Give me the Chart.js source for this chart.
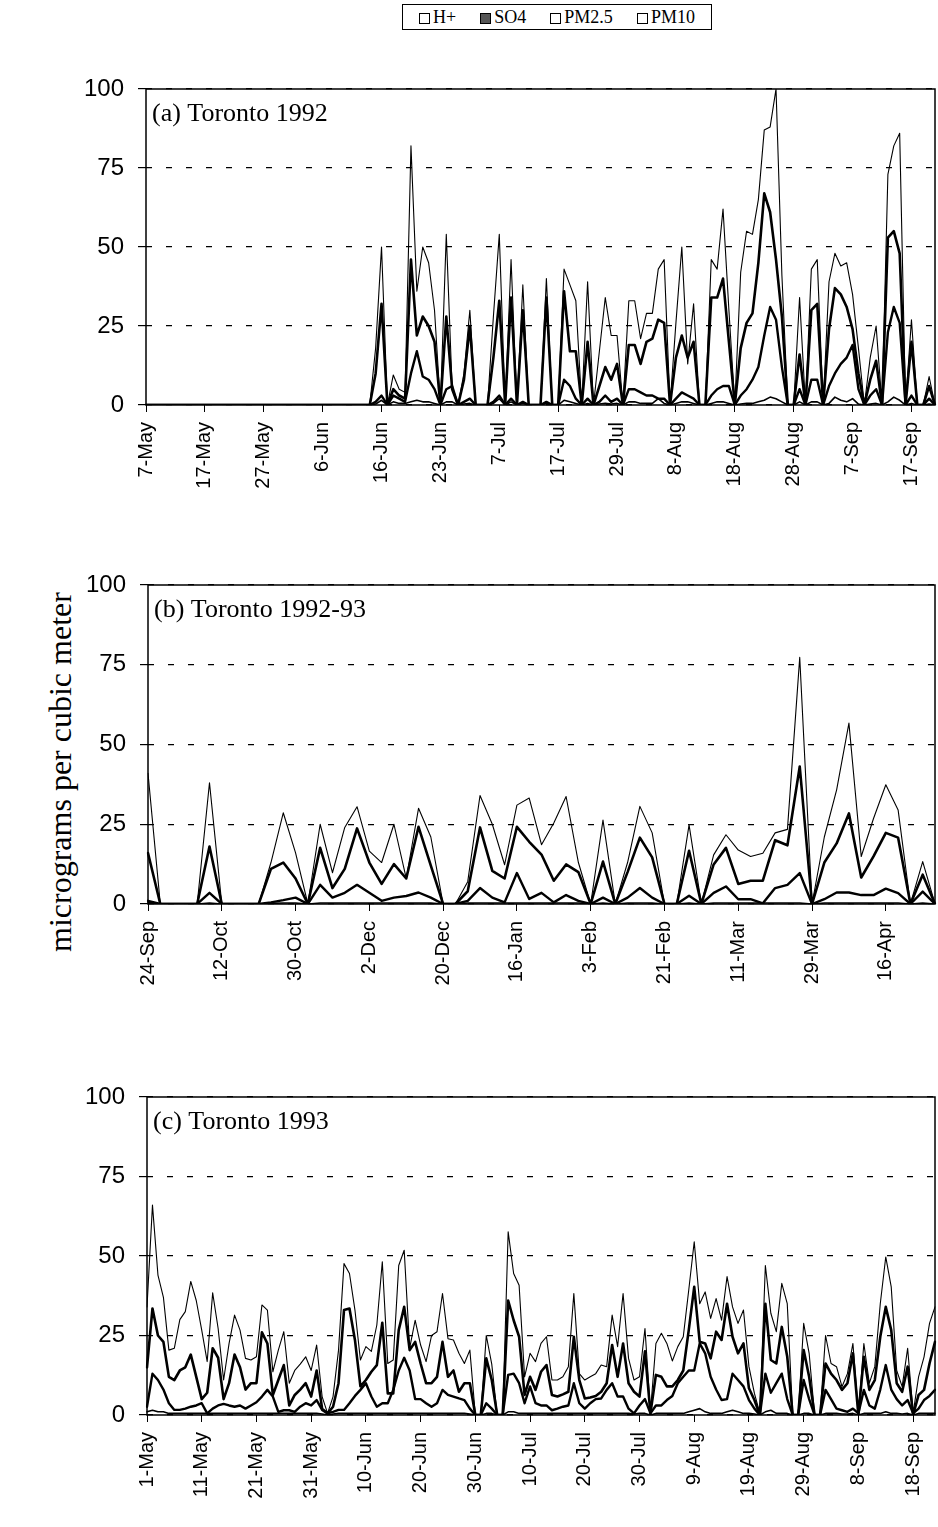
<!DOCTYPE html>
<html>
<head>
<meta charset="utf-8">
<script src="https://cdn.jsdelivr.net/npm/chart.js@4.4.1/dist/chart.umd.min.js"></script>
<style>
  body { margin: 0; background: #fff; }
  #page { position: relative; width: 938px; height: 1527px; overflow: hidden; background: #fff; }
  .panel { position: absolute; left: 0; width: 938px; }
  .panel canvas { display: block; }
  #legend {
    position: absolute; left: 402px; top: 4px; width: 310px; height: 26px;
    border: 1.5px solid #000; box-sizing: border-box;
    font: 18px "Liberation Serif", "Times New Roman", serif; color: #000;
    display: flex; align-items: center; justify-content: space-around; padding: 0 4px;
  }
  #legend .sw { display: inline-block; width: 9px; height: 9px; border: 1.5px solid #000; margin-right: 3px; vertical-align: -1px; }
  #legend .sw.dark { background: #555; }
  #ylabel {
    position: absolute; left: 60px; top: 772px; transform: translate(-50%, -50%) rotate(-90deg);
    white-space: nowrap; font: 32px "Liberation Serif", "Times New Roman", serif; color: #000;
  }
</style>
</head>
<body>
<div id="page">
  <div id="legend">
    <span><span class="sw"></span>H+</span>
    <span><span class="sw dark"></span>SO4</span>
    <span><span class="sw"></span>PM2.5</span>
    <span><span class="sw"></span>PM10</span>
  </div>
  <div id="ylabel">micrograms per cubic meter</div>
  <div class="panel" style="top:40px"><canvas id="chart-a" width="938" height="500"></canvas></div>
  <div class="panel" style="top:545px"><canvas id="chart-b" width="938" height="500"></canvas></div>
  <div class="panel" style="top:1055px"><canvas id="chart-c" width="938" height="472"></canvas></div>
</div>

<script>
// ---- tick labels (one every N samples) ----
const ticksA = ['7-May','17-May','27-May','6-Jun','16-Jun','23-Jun','7-Jul','17-Jul','29-Jul','8-Aug','18-Aug','28-Aug','7-Sep','17-Sep'];
const ticksB = ['24-Sep','12-Oct','30-Oct','2-Dec','20-Dec','16-Jan','3-Feb','21-Feb','11-Mar','29-Mar','16-Apr'];
const ticksC = ['1-May','11-May','21-May','31-May','10-Jun','20-Jun','30-Jun','10-Jul','20-Jul','30-Jul','9-Aug','19-Aug','29-Aug','8-Sep','18-Sep'];

// ---- (a) Toronto 1992 ----
const pm10A = [
  0,0,0,0,0,0,0,0,0,0, 0,0,0,0,0,0,0,0,0,0, 0,0,0,0,0,0,0,0,0,0,
  0,0,0,0,0,0,0,0,0,18, 50,0,9.5,5,4,82,36,50,45,30, 0,54,5,0,10,30,0,0,0,28,
  54,0,46,0,38,0,0,0,40,0, 0,43,38,33,0,39,0,17,34,22, 22,0,33,33,21,29,29,43,46,0,
  26,50,13,32,0,0,46,43,62,30, 0,42,55,54,65,87,88,100,41,0, 0,34,0,43,46,0,39,48,44,45,
  35,18,0,15,25,0,73,82,86,0, 27,0,0,9,0
];
const pm25A = [
  0,0,0,0,0,0,0,0,0,0, 0,0,0,0,0,0,0,0,0,0, 0,0,0,0,0,0,0,0,0,0,
  0,0,0,0,0,0,0,0,0,10, 32,0,5,3,2,46,22,28,25,20, 0,28,5,0,8,25,0,0,0,15,
  33,0,34,0,30,0,0,0,34,0, 0,36,17,17,0,20,0,6,12,8, 13,0,19,19,13,20,21,27,26,0,
  15,22,15,20,0,0,34,34,40,20, 0,18,26,29,45,67,61,46,28,0, 0,16,0,30,32,0,24,37,35,31,
  24,10,0,8,14,0,53,55,48,0, 20,0,0,6,0
];
const so4A = [
  0,0,0,0,0,0,0,0,0,0, 0,0,0,0,0,0,0,0,0,0, 0,0,0,0,0,0,0,0,0,0,
  0,0,0,0,0,0,0,0,0,1, 3,0,3,2,1,10,17,9,8,5, 0,5,6,0,1,2,0,0,0,1,
  3,0,2,0,1,0,0,0,1,0, 0,8,6,2,0,2,0,1,3,1, 2,0,5,5,4,3,3,2,2,0,
  2,4,3,2,0,0,3,5,6,6, 0,3,5,8,12,22,31,27,12,0, 0,5,0,8,8,0,6,10,13,15,
  19,5,0,3,5,0,23,31,26,0, 3,0,0,2,0
];
const hA = [
  0,0,0,0,0,0,0,0,0,0, 0,0,0,0,0,0,0,0,0,0, 0,0,0,0,0,0,0,0,0,0,
  0,0,0,0,0,0,0,0,0,0.3, 1.5,0,1,0.5,0.5,1,1.5,1,1,0.5, 0,1,1,0,0.3,0.5,0,0,0,0.5,
  2,0,1,0,0.5,0,0,0,0.5,0, 0,1.5,1,0.5,0,0.5,0,0.3,0.5,0.3, 0.5,0,1,1,0.5,0.5,0.5,2,0.5,0,
  0.5,1,1,0.5,0,0,0.5,1,1,0.5, 0,0.3,0.5,0.5,1,1.5,2.5,2,1,0, 0,1,0,1,1,0,0.5,2.5,1.5,1,
  2,0.3,0,0.3,0.5,0,1,2.5,1.5,0, 0.5,0,0,0.3,0
];

// ---- (b) Toronto 1992-93 ----
const pm10B = [
  41,0,0,0,0,38,0,0,0,0, 13,28.6,16,0,25,9.8,24,30.5,16.6,13,
  25,8,30,21,0,0,7,34,25,12.3, 31,33.2,18.6,25.4,33.7,13,0,26.3,0,13,
  30.6,22.3,0,0,24.8,0,15.4,21.7,16.9,14.9, 15.9,22.3,23.4,77.3,0,21,35.8,56.7,14.9,26.8,
  37.4,29.5,0,13.3,0
];
const pm25B = [
  16,0,0,0,0,18,0,0,0,0, 11,13,8,0,17.6,5,11,23.7,13,6.3,
  12.5,8,24.2,12,0,0,4,24,10.4,8, 24.2,19.5,15.5,7.3,12.4,10,0,13.3,0,10,
  20.8,14.6,0,0,16.7,0,12.4,17.6,6.3,7.3, 7.3,20,18.4,43.1,0,13,19,28.4,8.3,14.9,
  22.3,20.8,0,9.2,0
];
const so4B = [
  1,0,0,0,0,3.5,0,0,0,0, 0.5,1.2,2,0,6,2,3.5,6,3.5,1,
  2,2.5,3.6,2,0,0,1,5,2,0.5, 9.7,1.6,3.5,0.5,2.8,1,0,2,0,2,
  5,2,0,0,2.6,0,3.5,5.5,1.5,1.5, 0.2,5,6,9.7,0,1.5,3.6,3.6,2.8,2.8,
  4.8,3.4,0,3.9,0
];
const hB = [
  0.5,0,0,0,0,0.3,0,0,0,0, 0.2,0.3,0.3,0,0.3,0.3,0.3,0.3,0.3,0.3,
  0.3,0.3,0.3,0.3,0,0,0.3,0.3,0.3,0.3, 0.3,0.3,0.3,0.3,0.3,0.3,0,0.3,0,0.3,
  0.3,0.3,0,0,0.3,0,0.3,0.3,0.3,0.3, 0.3,0.3,0.3,0.3,0,0.3,0.3,0.3,0.3,0.3,
  0.3,0.3,0,0.3,0
];

// ---- (c) Toronto 1993 ----
const pm10C = [
  34,66,44,37,20.4,21,30,32.5,42,36, 26.7,16.8,38.4,27.2,11,22.5,31.4,26.7,17.8,17.3,
  18.3,34.6,33,13.6,20.4,26.2,10,14,16,18.3, 14,22,5.8,0.5,5.8,20.4,47.6,44.5,33,17.3,
  21.5,20,28.3,48.2,16.2,17.3,47,51.8,21,29.8, 22,16.8,25,26.2,38.2,24,23.6,19.4,16.2,20.4,
  0,0,25,16,0,0,57.6,44.5,40.8,12, 19.4,16.8,22.5,24.6,11,11,12,15.2,38.2,13,
  11,12,13,15.7,15.2,31.4,21.5,38.2,17.8,11, 12,27.2,1,22.5,25.7,22.5,17,21.5,24.6,39.3,
  54.5,35,38.7,30.4,36.6,29.8,43.5,34,28.8,33, 15.2,6.8,0.5,47,32,26.2,41.4,35,0,0,
  28.8,19.4,0,0,25,16.2,15.2,8.9,13,22.5, 0.5,22.5,10,15.2,35,49.7,40.3,14,8.9,21,
  0.5,12,18.3,28.8,34
];
const pm25C = [
  15,33.5,25,23,12,11,14,15,19,12, 5,7,21,18,5,10,19,15,8,10,
  10,26,22.5,6.3,11,15.7,3,6.3,8,10, 5.8,14,2,0.5,2.6,10,33,33.5,23.6,9,
  11,13.6,15.7,29,6.8,6.8,26.7,34,20.4,23, 16.2,10,10,12,23,12,14,7.3,10,10,
  0,0,17.8,11,0,0,36,29.8,24.6,6.3, 12,7.9,13.6,15.7,6.3,5.8,6.5,7.3,24.6,11,
  5.2,5.5,6,7.3,10,22,12,22.5,10,7.3, 5.8,20,0.5,12.6,12,9,9,11,14,26.7,
  40.3,23,22.5,17.8,26.2,23.6,35,24.6,19.4,22.5, 8.4,4.7,0,35,17.3,16.2,27.7,18.3,0,0,
  20.4,12,0,0,16.2,13,11,7.9,10,19.4, 0,18.3,7.9,11,24.6,34,26.7,10,7.3,15.2,
  0,6.3,7.9,16.2,23
];
const so4C = [
  2.6,13,11,8,3.7,1.6,1.6,2,2.6,3, 3.7,0.5,2,3,3.5,3,2.6,3,2,3,
  4,5.8,7.9,5.8,1,1.5,1.5,1,2.6,3.7, 3,4.7,1.6,0.5,1,1.6,1.6,3.7,6,7.9,
  10,5.8,2.6,3.7,3.7,7.9,14,18,14,5, 5,3.7,2.6,3.7,7.9,6.3,5.8,5.2,4.7,2,
  0,0,3.7,2,0,0,12.6,13,10,3.7, 9,3.7,3,3,1.5,2,2.6,3,10,3.7,
  2,3.7,5,5.2,7.9,10,5.8,5.8,2,0.5, 3,5,0.5,3,3,4.7,6,10,12,14,
  14,22.5,19.4,12,8,4.7,5,13,11,9, 4.7,2,0,13,7,10,13,5,0,0,
  11,5,0,0,7.9,5,2,1.5,1,2, 0.5,7.9,3,2,8,15.7,8,5,3,4.7,
  0.5,2,4.7,6,7.9
];
const hC = [
  1,1.5,1,1,0.5,0.5,0.5,0.5,0.5,0.5, 0.5,0.5,0.5,0.5,0.5,0.5,0.5,0.5,0.5,0.5,
  0.5,0.5,0.5,0.5,0.5,0.5,0.5,0.5,0.5,0.5, 0.5,0.5,0.3,0,0.3,0.5,0.5,0.5,0.5,0.5,
  0.5,0.5,0.5,0.5,0.5,0.5,0.5,0.5,0.5,0.5, 0.5,0.5,0.5,0.5,0.5,0.5,0.5,0.5,0.5,0.3,
  0,0,0.5,0.5,0,0,1,1,0.5,0.5, 0.5,0.5,0.5,0.5,0.5,0.5,0.5,0.5,0.5,0.5,
  0.5,0.5,0.5,0.5,0.5,0.5,0.5,0.5,0.5,0.3, 0.5,0.5,0,0.5,0.5,0.5,0.5,0.5,0.5,1,
  1.5,2,1,0.5,0.5,0.5,1,1.5,1,0.5, 0.5,0.3,0,1,1.5,0.5,0.5,0.5,0,0,
  0.5,0.5,0,0,0.5,0.5,0.5,0.3,0.3,0.5, 0,0.5,0.5,0.5,0.5,1,0.5,0.5,0.3,0.5,
  0,0.5,0.5,0.5,0.5
];

const yTicks = [0, 25, 50, 75, 100];

// frame + panel caption, drawn on top of everything
const panelDecor = {
  id: 'panelDecor',
  afterDraw(chart, args, opts) {
    const { ctx, chartArea: a } = chart;
    ctx.save();
    ctx.setLineDash([]);
    ctx.strokeStyle = '#000';
    ctx.lineWidth = 1.5;
    ctx.strokeRect(a.left, a.top, a.right - a.left, a.bottom - a.top);
    ctx.fillStyle = '#000';
    ctx.font = '26px "Liberation Serif", "Times New Roman", serif';
    ctx.textBaseline = 'alphabetic';
    ctx.fillText(opts.title, a.left + 6, a.top + 32);
    ctx.restore();
  }
};

function buildPanel(id, title, series, tickLabels, every, cfg) {
  const n = series.pm10.length;
  const labels = Array.from({ length: n }, (_, i) => i);
  const line = (label, data, width) => ({
    label, data, borderColor: '#000', borderWidth: width, pointRadius: 0,
    tension: 0, fill: false, borderJoinStyle: 'round', borderCapStyle: 'round'
  });
  return new Chart(document.getElementById(id), {
    type: 'line',
    data: {
      labels,
      datasets: [
        line('H+', series.h, 1.6),
        line('SO4', series.so4, 2.4),
        line('PM2.5', series.pm25, 2.6),
        line('PM10', series.pm10, 1.1)
      ]
    },
    plugins: [panelDecor],
    options: {
      responsive: false,
      animation: false,
      layout: { padding: { top: cfg.top, right: 3, left: 0, bottom: 0 } },
      plugins: { legend: { display: false }, tooltip: { enabled: false }, panelDecor: { title } },
      scales: {
        x: {
          type: 'category',
          offset: false,
          afterFit: s => { s.height = cfg.xh; s.paddingLeft = 0; s.paddingRight = 0; },
          border: { display: false },
          grid: {
            drawOnChartArea: false, drawTicks: true, tickLength: 7,
            color: c => (c.index % every === 0 ? '#000' : 'rgba(0,0,0,0)'),
            tickColor: c => (c.index % every === 0 ? '#000' : 'rgba(0,0,0,0)')
          },
          ticks: {
            autoSkip: false, maxRotation: 90, minRotation: 90, padding: 10, color: '#000',
            font: { family: '"Liberation Sans", Arial, sans-serif', size: 20 },
            callback: (v, i) => (i % every === 0 ? tickLabels[i / every] : '')
          }
        },
        y: {
          min: 0, max: 100,
          afterFit: s => { s.width = cfg.yw; s.paddingTop = 0; s.paddingBottom = 0; },
          afterBuildTicks: s => { s.ticks = yTicks.map(v => ({ value: v })); },
          border: { display: false, dash: [6, 14] },
          grid: { color: '#000', lineWidth: 1.2, tickLength: 8, tickColor: '#000', tickBorderDash: [] },
          ticks: {
            color: '#000', padding: 14,
            font: { family: '"Liberation Sans", Arial, sans-serif', size: 24 }
          }
        }
      }
    }
  });
}

buildPanel('chart-a', '(a) Toronto 1992',
  { pm10: pm10A, pm25: pm25A, so4: so4A, h: hA }, ticksA, 10, { top: 49, xh: 135, yw: 146 });
buildPanel('chart-b', '(b) Toronto 1992-93',
  { pm10: pm10B, pm25: pm25B, so4: so4B, h: hB }, ticksB, 6, { top: 40, xh: 141, yw: 148 });
buildPanel('chart-c', '(c) Toronto 1993',
  { pm10: pm10C, pm25: pm25C, so4: so4C, h: hC }, ticksC, 10, { top: 42, xh: 112, yw: 147 });
</script>
</body>
</html>
